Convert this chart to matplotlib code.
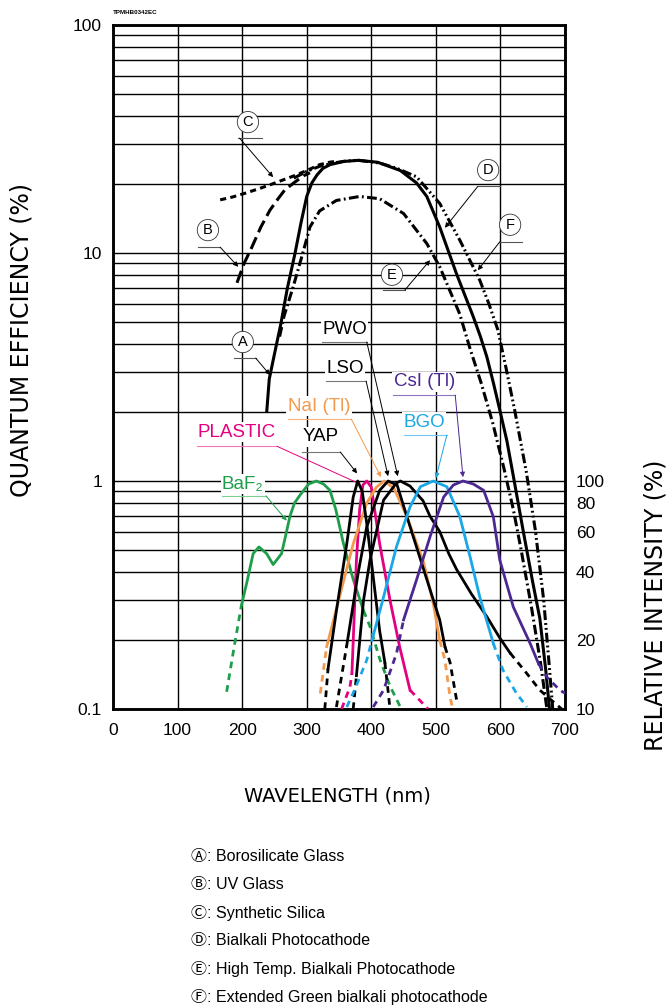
import matplotlib
matplotlib.use('Agg')
import matplotlib.pyplot as plt
import numpy as np
from matplotlib.ticker import LogLocator, NullFormatter, NullLocator

plt.rcParams['font.family'] = ['Liberation Sans', 'DejaVu Sans']
SYMS = ['Liberation Sans', 'DejaVu Sans', 'Noto Sans CJK JP']

# ---- photocathode quantum efficiency (%) vs wavelength (nm) ----
ad_nm = [238, 242, 250, 260, 270, 282, 291, 300, 308, 316, 325, 336, 357, 380, 410, 445,
         470, 486, 506, 532, 558, 569, 579, 589, 599, 610, 620, 635, 650, 661, 670, 676]
ad_qe = [2.0, 2.8, 3.6, 4.9, 7.0, 10, 13.5, 17.7, 20.3, 22, 23.5, 24.4, 25.2, 25.5, 25.0, 23,
         20.3, 17.7, 13, 8.1, 5.25, 4.3, 3.5, 2.7, 2.05, 1.5, 1.05, 0.61, 0.36, 0.25, 0.15, 0.1]
b_nm = [192, 203, 215, 229, 243, 255, 266, 280, 295, 305]
b_qe = [7.4, 9.0, 10.6, 13.0, 15.4, 17.2, 18.9, 20.3, 21.8, 22.5]
c_nm = [166, 185, 205, 225, 243, 265, 284, 303, 320, 335, 348]
c_qe = [17.1, 17.6, 18.3, 19.1, 19.9, 21.0, 22.0, 23.2, 24.4, 25.0, 25.3]
e_nm = [258, 265, 279, 294, 305, 320, 346, 382, 413, 450, 486, 506, 537, 553, 570,
        588, 605, 620, 632, 648, 662, 672]
e_qe = [4.3, 5.3, 7.1, 10, 13, 15.3, 17, 17.7, 17.3, 14.9, 11.0, 8.7, 5.4, 3.8, 2.7,
        1.8, 1.15, 0.75, 0.5, 0.28, 0.16, 0.1]
f_nm = [280, 300, 320, 341, 360, 380, 413, 440, 470, 506, 537, 568, 582, 596, 609, 622,
        640, 654, 667, 676, 681]
f_qe = [21.3, 22.8, 24.0, 24.8, 25.3, 25.5, 24.8, 23.5, 21.6, 16.5, 11.4, 7.6, 6.0, 4.6,
        3.1, 2.05, 1.1, 0.61, 0.3, 0.15, 0.1]

# ---- scintillator emission, relative intensity (%) ----
baf2_nm = [176, 188, 199, 207, 217, 226, 238, 248, 261, 267, 274, 281, 290, 303, 315,
           326, 336, 345, 357, 372, 388, 398, 413, 429, 445]
baf2_rel = [11.9, 19, 28.6, 35.6, 48, 51.4, 48, 43, 48, 57, 70, 80, 87, 97, 100,
            97, 91, 75, 53, 37, 27, 23, 16.6, 12.6, 10.2]
baf2_solid = (199, 388)

plastic_nm = [354, 367, 370, 377, 382, 387, 393, 400, 413, 429, 444, 460, 470, 488]
plastic_rel = [10, 12.5, 14.3, 45, 75, 96, 100, 94, 53, 30, 18.7, 12.1, 11.3, 10]
plastic_solid = (370, 460)

nai_nm = [321, 328, 331, 352, 372, 393, 408, 420, 435, 455, 481, 496, 506, 514, 522, 526]
nai_rel = [11.7, 16.4, 18.8, 32, 53, 80, 94, 100, 93, 70, 44, 29, 20, 16.4, 11.3, 10]
nai_solid = (331, 506)

yap_nm = [328, 333, 346, 362, 372, 379, 386, 393, 403, 413, 421, 426, 429]
yap_rel = [10, 15, 27, 53, 85, 100, 90, 65, 38, 22, 16, 12, 10]
yap_solid = (333, 421)

lso_nm = [346, 362, 380, 393, 413, 426, 440, 455, 486, 506, 514, 522, 532]
lso_rel = [10.2, 19, 40, 63, 91, 100, 96, 70, 37, 24.6, 18.8, 16, 11]
lso_solid = (362, 514)

pwo_nm = [372, 377, 388, 398, 419, 439, 445, 460, 480, 491, 506, 520, 532, 555, 579,
          599, 615, 641, 661, 681, 695]
pwo_rel = [10, 14, 30, 45, 82.5, 98, 100, 95, 82, 70, 60, 48, 41, 32, 25.4,
           20.5, 17.6, 14.3, 12.1, 10.8, 10]
pwo_solid = (377, 615)

bgo_nm = [362, 374, 393, 401, 419, 439, 460, 476, 496, 517, 537, 553, 568, 589, 604, 625, 641]
bgo_rel = [10.2, 12.1, 16.4, 20, 31, 51.5, 77, 94.4, 100, 94.4, 70, 46.5, 31, 19.4,
           14.8, 11.7, 10.2]
bgo_solid = (401, 589)

csi_nm = [403, 419, 439, 450, 470, 491, 512, 527, 542, 558, 574, 589, 599, 620, 646,
          659, 672, 692, 705]
csi_rel = [10.2, 12.1, 17.5, 24.6, 36.8, 57, 85, 96, 100, 97, 91, 69.7, 45, 28, 19.4,
           15.8, 13.8, 12.1, 11.5]
csi_solid = (450, 659)

legend_items = [('Ⓐ', 'Borosilicate Glass'), ('Ⓑ', 'UV Glass'), ('Ⓒ', 'Synthetic Silica'),
                ('Ⓓ', 'Bialkali Photocathode'), ('Ⓔ', 'High Temp. Bialkali Photocathode'),
                ('Ⓕ', 'Extended Green bialkali photocathode')]

GREEN, MAGENTA, ORANGE = '#1e9e4a', '#e4007f', '#f39a4e'
BLUE, PURPLE = '#1aa7e6', '#4a2791'

fig = plt.figure(figsize=(6.69, 10.08), dpi=100)
ax = fig.add_axes([113 / 669, 1 - 709 / 1008, 452 / 669, 684 / 1008])
ax.set_yscale('log')
ax.set_xlim(0, 700)
ax.set_ylim(0.1, 100)
ax.set_xticks(range(0, 701, 100))
ax.set_yticks([0.1, 1, 10, 100])
ax.set_yticklabels(['0.1', '1', '10', '100'])
ax.yaxis.set_minor_locator(LogLocator(base=10, subs=range(2, 10)))
ax.yaxis.set_minor_formatter(NullFormatter())
ax.tick_params(which='both', length=0)
ax.tick_params(axis='y', pad=8, labelsize=12.5)
ax.tick_params(axis='x', pad=10, labelsize=12.5)
ax.grid(True, which='both', color='black', lw=1.0)
ax.set_axisbelow(True)

ax2 = ax.twinx()
ax2.set_yscale('log')
ax2.set_ylim(10, 10000)
ax2.set_yticks([10, 20, 40, 60, 80, 100])
ax2.set_yticklabels(['10', '20', '40', '60', '80', '100'])
ax2.yaxis.set_minor_locator(NullLocator())
ax2.tick_params(which='both', length=0, pad=8, labelsize=12.5)

for a in (ax, ax2):
    for s in a.spines.values():
        s.set_linewidth(1.8)

# PMT spectral response curves
kw = dict(color='black', lw=2.2, zorder=4, solid_capstyle='butt', dash_capstyle='butt',
          solid_joinstyle='round')
ax.plot(ad_nm, ad_qe, **kw)
ax.plot(b_nm, b_qe, dashes=(4.2, 1.8), **kw)
ax.plot(c_nm, c_qe, dashes=(2.0, 1.4), **kw)
ax.plot(e_nm, e_qe, dashes=(3.2, 1.1, 0.6, 1.1), **kw)
ax.plot(f_nm, f_qe, dashes=(3.2, 1.0, 0.6, 1.0, 0.6, 1.0), **kw)


def scint(nm, rel, solid, color):
    nm = np.array(nm)
    rel = np.array(rel)
    lo, hi = solid
    m = (nm >= lo) & (nm <= hi)
    ax2.plot(nm[m], rel[m], color=color, lw=2.0, zorder=3, solid_joinstyle='round')
    for part in (nm <= lo, nm >= hi):
        ax2.plot(nm[part], rel[part], color=color, lw=2.0, dashes=(2.4, 1.9), zorder=3)


scint(baf2_nm, baf2_rel, baf2_solid, GREEN)
scint(plastic_nm, plastic_rel, plastic_solid, MAGENTA)
scint(nai_nm, nai_rel, nai_solid, ORANGE)
scint(yap_nm, yap_rel, yap_solid, 'black')
scint(lso_nm, lso_rel, lso_solid, 'black')
scint(pwo_nm, pwo_rel, pwo_solid, 'black')
scint(bgo_nm, bgo_rel, bgo_solid, BLUE)
scint(csi_nm, csi_rel, csi_solid, PURPLE)


def leader(u0, u1, uy, start, tip, color, head_color, head=True):
    ax.plot([u0, u1], [uy, uy], color=color, lw=0.8, zorder=5)
    ax.annotate('', xy=tip, xytext=start, zorder=5,
                arrowprops=dict(arrowstyle='-|>' if head else '-', color=head_color,
                                lw=0.7, mutation_scale=7, shrinkA=0, shrinkB=0))


# circled letters for the PMT curves
circ = [('C', (209, 37.5), (194, 231, 31.9), (196, 31.9), (248, 21.5)),
        ('B', (147, 12.6), (132, 166, 10.6), (166, 10.6), (194, 8.7)),
        ('A', (201, 4.07), (188, 221, 3.46), (221, 3.46), (243, 2.92)),
        ('D', (581, 23.1), (565, 599, 19.6), (565, 19.6), (514, 12.9)),
        ('E', (432, 8.03), (418, 452, 6.88), (452, 6.88), (491, 9.3)),
        ('F', (615, 13.3), (599, 633, 11.2), (599, 11.2), (565, 8.4))]
for letter, pos, ul, st, tip in circ:
    ax.text(pos[0], pos[1], letter, fontsize=10.5, ha='center', va='center', zorder=6,
            bbox=dict(boxstyle='circle,pad=0.25', fc='white', ec='#333333', lw=0.6))
    leader(ul[0], ul[1], ul[2], st, tip, '#555555', 'black')

# scintillator labels
labels = [('PWO', (359, 4.6), (324, 393, 4.07), (393, 4.07), (441, 1.05), 'black', '#777777', True),
          ('LSO', (359, 3.1), (330, 392, 2.74), (392, 2.74), (426, 1.05), 'black', '#777777', True),
          ('NaI (Tl)', (319, 2.13), (271, 369, 1.87), (369, 1.87), (415, 1.04), ORANGE, '#f6b27a', True),
          ('YAP', (322, 1.56), (293, 352, 1.34), (352, 1.34), (378, 1.08), 'black', '#777777', True),
          ('PLASTIC', (192, 1.64), (130, 254, 1.42), (254, 1.42), (379, 0.98), MAGENTA, '#f07ab8', False),
          ('BaF₂', (201, 0.97), (169, 237, 0.86), (237, 0.86), (269, 0.67), GREEN, '#7fcf92', True),
          ('CsI (Tl)', (482, 2.72), (434, 530, 2.38), (530, 2.38), (542, 1.04), PURPLE, '#8c74c0', True),
          ('BGO', (482, 1.81), (451, 517, 1.59), (517, 1.59), (500, 1.03), BLUE, '#72c8f0', True)]
for txt, pos, ul, st, tip, col, lcol, head in labels:
    ax.text(pos[0], pos[1], txt, color=col, fontsize=13.5, ha='center', va='center', zorder=6,
            bbox=dict(fc='white', ec='none', pad=1.0))
    leader(ul[0], ul[1], ul[2], st, tip, lcol, col, head)

# figure texts
fig.text(113 / 669, 1 - 12 / 1008, 'TPMHB0342EC', fontsize=4.5, weight='bold', va='center')
fig.text(22 / 669, 1 - 340 / 1008, 'QUANTUM EFFICIENCY (%)', rotation=90, ha='center',
         va='center', fontsize=17, family=['DejaVu Sans'])
fig.text(655 / 669, 1 - 605 / 1008, 'RELATIVE INTENSITY (%)', rotation=90, ha='center',
         va='center', fontsize=17, family=['DejaVu Sans'])
fig.text(337 / 669, 1 - 796 / 1008, 'WAVELENGTH (nm)', ha='center', va='center',
         fontsize=14, family=['DejaVu Sans'])
for i, (sym, desc) in enumerate(legend_items):
    fig.text(191 / 669, 1 - (857 + 28 * i) / 1008, sym + ': ' + desc, fontsize=11.5,
             va='center', family=SYMS)

fig.savefig('out.png', dpi=100)
